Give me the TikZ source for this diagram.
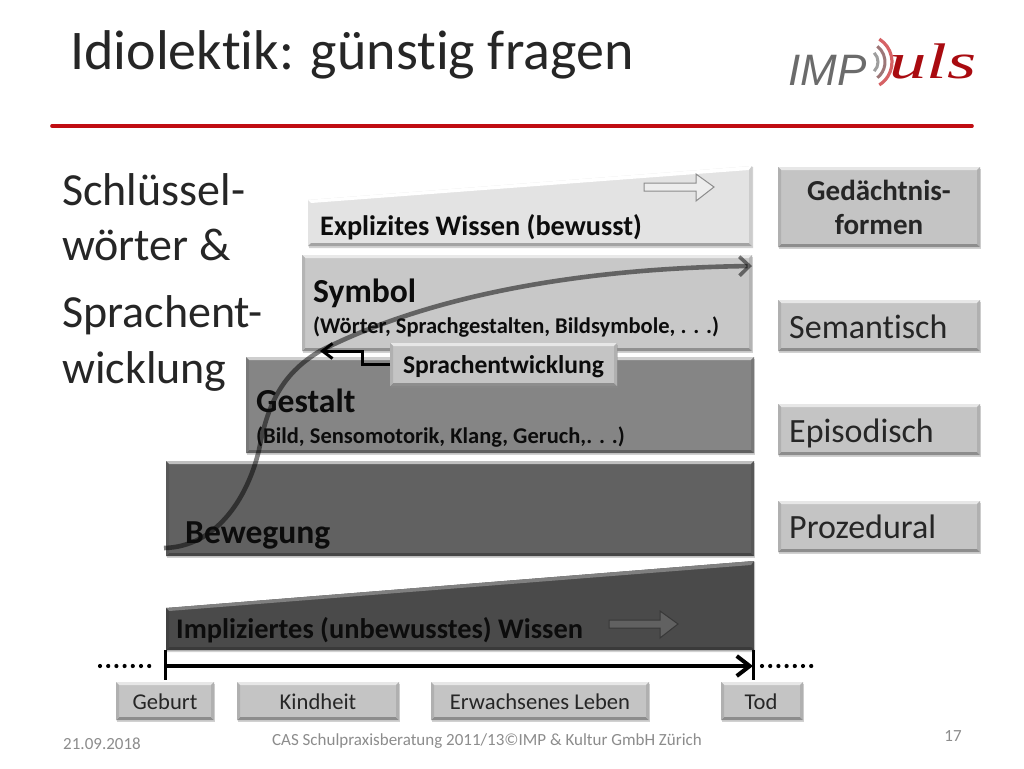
\documentclass[tikz,border=0pt]{standalone}
\usepackage{fontspec}
\setmainfont{Carlito}[Ligatures=NoCommon]
\newfontfamily\logoA{Liberation Sans}
\newfontfamily\logoB{Liberation Serif}
\usetikzlibrary{arrows.meta,calc}
\definecolor{cInk}{HTML}{0C0C0C}
\definecolor{cRed}{HTML}{C00D12}
\definecolor{cFoot}{HTML}{8C8C8C}
\definecolor{cBox}{HTML}{C4C4C4}
\definecolor{cLayerA}{HTML}{E3E3E3}
\definecolor{cLayerB}{HTML}{C8C8C8}
\definecolor{cLayerC}{HTML}{858585}
\definecolor{cLayerD}{HTML}{616161}
\definecolor{cLayerE}{HTML}{4A4A4A}
\tikzset{
  fs/.style={font=\fontsize{#1}{#1}\selectfont},
  bfs/.style={font=\bfseries\fontsize{#1}{#1}\selectfont},
  lab/.style={anchor=base west,inner sep=0pt,text=cInk},
  ctr/.style={anchor=base,inner sep=0pt,text=cInk},
  foot/.style={anchor=base,inner sep=0pt,text=cFoot},
  bevelshadow/.style={fill=black!45,draw=none,opacity=.4},
  timeline/.style={line width=4pt,black},
  tick/.style={line width=3pt,black},
  dots/.style={line width=4.2pt,black,line cap=round,dash pattern=on 0pt off 8.2pt},
}
% \bevbox{name}{x1}{y1}{x2}{y2}{fill}
\newcommand{\bevbox}[6]{%
  \fill[bevelshadow] (#2+1,#3+2) rectangle (#4+1,#5+2);
  \node[fill=#6,draw=none,inner sep=0pt,anchor=north west,minimum width=#4pt-#2pt,minimum height=#5pt-#3pt] (#1) at (#2,#3) {};
  \fill[#6!40!white] (#2,#3) -- (#4,#3) -- (#4-3,#3+3) -- (#2+3,#3+3) -- cycle;
  \fill[#6!72!black] (#2,#5) -- (#4,#5) -- (#4-3,#5-3) -- (#2+3,#5-3) -- cycle;
  \fill[#6!90!black] (#2,#3) -- (#2+3,#3+3) -- (#2+3,#5-3) -- (#2,#5) -- cycle;
  \fill[#6!90!black] (#4,#3) -- (#4-3,#3+3) -- (#4-3,#5-3) -- (#4,#5) -- cycle;
}
\begin{document}
\begin{tikzpicture}[x=1pt,y=-1pt]
\useasboundingbox (0,0) rectangle (1024,768);
\fill[white] (0,0) rectangle (1024,768);

% title and rule
\node[lab,fs=56,text=black!85] (title) at (70,70) {Idiolektik: günstig fragen};
\coordinate (ruleL) at (52,126);
\coordinate (ruleR) at (972,126);
\draw[cRed,line width=3.6pt,line cap=round] (ruleL) -- (ruleR);

% logo
\node[lab,fs=44,text=black!58] (logoimp) at (788,85) {\logoA\itshape IMP};
\node[lab,fs=50,text=cRed!88!black,xscale=1.5] (logouls) at (889,78) {\logoB\itshape uls};
\coordinate (logoC) at (865,62);
\draw[black!38,line width=3pt] (logoC) ++(-45:13) arc[start angle=-45,end angle=45,radius=13];
\draw[cRed!40!black!55,line width=3pt] (logoC) ++(-52:20) arc[start angle=-52,end angle=52,radius=20];
\draw[cRed!65!white,line width=3.2pt] (logoC) ++(-58:27) arc[start angle=-58,end angle=58,radius=27];

% left text
\node[lab,fs=46,text=black!85] (k1) at (62,205) {Schlüssel-};
\node[lab,fs=46,text=black!85] (k2) at (62,260) {wörter \&};
\node[lab,fs=46,text=black!85] (k3) at (62,327) {Sprachent-};
\node[lab,fs=46,text=black!85] (k4) at (62,383) {wicklung};

% explicit wedge
\fill[bevelshadow] (309,201) -- (753,167) -- (753,248) -- (309,248) -- cycle;
\fill[cLayerA] (308,200) -- (752,166) -- (752,246) -- (308,246) -- cycle;
\fill[white] (308,200) -- (752,166) -- (749,170) -- (311,203) -- cycle;
\fill[cLayerA!72!black] (308,246) -- (752,246) -- (749,243) -- (311,243) -- cycle;
\fill[cLayerA!90!black] (752,166) -- (752,246) -- (749,243) -- (749,170) -- cycle;
\node[lab,bfs=28.3] (explizit) at (320,235) {Explizites Wissen (bewusst)};
\fill[black!7,draw=black!45,line width=1pt] (644,183) -- (696,183) -- (696,174) -- (714,187) -- (696,201) -- (696,191) -- (644,191) -- cycle;

% layers
\bevbox{symbol}{302}{255}{752}{351}{cLayerB}
\bevbox{gestalt}{246}{357}{754}{453}{cLayerC}
\bevbox{bewegung}{166}{461}{754}{556}{cLayerD}

% implicit wedge
\fill[bevelshadow] (167,609) -- (755,562) -- (755,652) -- (167,652) -- cycle;
\fill[cLayerE] (166,608) -- (754,561) -- (754,650) -- (166,650) -- cycle;
\fill[cLayerE!70!white] (166,608) -- (754,561) -- (751,565) -- (169,611) -- cycle;
\fill[cLayerE!78!black] (166,650) -- (754,650) -- (751,647) -- (169,647) -- cycle;
\fill[cLayerE!88!black] (166,608) -- (169,611) -- (169,647) -- (166,650) -- cycle;
\fill[black!62,draw=black!78,line width=1pt] (609,620) -- (660,620) -- (660,611) -- (678,624) -- (660,638) -- (660,628) -- (609,628) -- cycle;

% growth curve
\coordinate (cS) at (164,548);
\coordinate (cM) at (259,450);
\coordinate (cN) at (320,351);
\coordinate (cE) at (752,266);
\draw[black,opacity=.5,line width=4.6pt,-{Straight Barb[length=10pt,width=19pt,line width=3.6pt]}]
  (cS) .. controls (215,547) and (247,500) .. (cM)
       .. controls (268,400) and (285,372) .. (cN)
       .. controls (440,290) and (600,268) .. (cE);

% layer labels
\node[lab,bfs=33.6] (lsym) at (313,302) {Symbol};
\node[lab,bfs=22.5] (lsym2) at (313,333) {(Wörter, Sprachgestalten, Bildsymbole, . . .)};
\node[lab,bfs=33.6] (lges) at (256,412) {Gestalt};
\node[lab,bfs=22.5] (lges2) at (256,443) {(Bild, Sensomotorik, Klang, Geruch,. . .)};
\node[lab,bfs=33.6] (lbew) at (185,543) {Bewegung};
\node[lab,bfs=28.4] (limp) at (176,638) {Impliziertes (unbewusstes) Wissen};

% Sprachentwicklung
\bevbox{sprach}{390}{343}{617}{386}{cBox}
\node[ctr,bfs=25.6] (lsprach) at (503.5,373) {Sprachentwicklung};
\coordinate (spTip) at (320,351);
\draw[black,line width=3pt,-{Straight Barb[length=10pt,width=15pt,line width=3pt]}] (sprach.west) -- ++(-28,0) |- (spTip);

% right column
\bevbox{gedaecht}{778}{167}{980}{247}{cBox}
\node[ctr,bfs=29,text=black!85] (g1) at (879,200) {Gedächtnis-};
\node[ctr,bfs=29,text=black!85] (g2) at (879,234) {formen};
\bevbox{sem}{778}{300}{980}{351}{cBox}
\node[lab,fs=34,text=black!85] (lsem) at (789,338) {Semantisch};
\bevbox{epi}{778}{404}{980}{455}{cBox}
\node[lab,fs=34,text=black!85] (lepi) at (789,442) {Episodisch};
\bevbox{pro}{778}{501}{980}{552}{cBox}
\node[lab,fs=34,text=black!85] (lpro) at (789,538) {Prozedural};

% timeline
\coordinate (tL) at (165,666);
\coordinate (tR) at (753,666);
\coordinate (tLa) at (165,650);
\coordinate (tLb) at (165,680);
\coordinate (tRa) at (753,650);
\coordinate (tRb) at (753,680);
\draw[tick] (tLa) -- (tLb);
\draw[tick] (tRa) -- (tRb);
\draw[timeline,-{Straight Barb[length=13pt,width=20pt,line width=4pt]}] (tL) -- (tR);
\coordinate (dL1) at (100,666);
\coordinate (dL2) at (153,666);
\coordinate (dR1) at (762,666);
\coordinate (dR2) at (817,666);
\draw[dots] (dL1) -- (dL2);
\draw[dots] (dR1) -- (dR2);

% life stages
\bevbox{geb}{116}{682}{214}{720}{cBox}
\node[ctr,fs=22.6,text=black!85] (lgeb) at (165,709) {Geburt};
\bevbox{kin}{237}{682}{399}{720}{cBox}
\node[ctr,fs=22.6,text=black!85] (lkin) at (318,709) {Kindheit};
\bevbox{erw}{431}{682}{649}{720}{cBox}
\node[ctr,fs=22.6,text=black!85] (lerw) at (540,709) {Erwachsenes Leben};
\bevbox{tod}{721}{682}{803}{720}{cBox}
\node[ctr,fs=22.6,text=black!85] (ltod) at (761,709) {Tod};

% footer
\node[foot,fs=17] (fdate) at (102,749) {21.09.2018};
\node[foot,fs=17] (fmid) at (487,745) {CAS Schulpraxisberatung 2011/13©IMP \& Kultur GmbH Zürich};
\node[foot,fs=17] (fnum) at (953,741) {17};
\end{tikzpicture}
\end{document}
